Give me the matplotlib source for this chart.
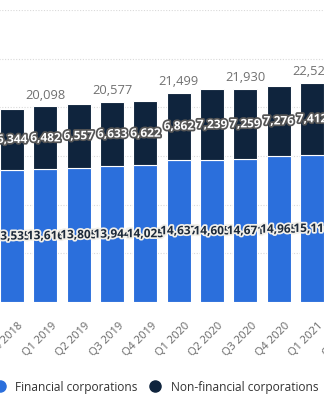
import matplotlib.pyplot as plt
import matplotlib.patheffects as pe
from matplotlib.lines import Line2D
from matplotlib.transforms import ScaledTranslation

plt.rcParams['font.family'] = ['Open Sans', 'DejaVu Sans']

# quarters (Q2 2021 is only partly visible at the right edge)
quarters = ['Q4 2018', 'Q1 2019', 'Q2 2019', 'Q3 2019', 'Q4 2019', 'Q1 2020',
            'Q2 2020', 'Q3 2020', 'Q4 2020', 'Q1 2021', 'Q2 2021']
financial = [13535, 13616, 13805, 13944, 14025, 14637, 14605, 14671, 14965, 15114]
non_financial = [6344, 6482, 6557, 6633, 6622, 6862, 7239, 7259, 7276, 7412]
y_ticks = [5000, 10000, 15000, 20000, 25000, 30000]

blue = '#2b6fdc'
navy = '#0f243d'

fig = plt.figure(figsize=(3.24, 4), dpi=100)
# axes is wider than the figure, the picture is a crop of a wider chart
ax = fig.add_axes([-4.67 / 324, 0.245, 366.67 / 324, 0.73])

x = list(range(len(financial)))
ax.bar(x, financial, width=0.72, color=blue, edgecolor='white', linewidth=0.8, zorder=2)
ax.bar(x, non_financial, width=0.72, bottom=financial, color=navy,
       edgecolor='white', linewidth=0.8, zorder=2)

for yv in y_ticks:
    ax.axhline(yv, color='#d9d9d9', linestyle=(0, (1, 1.5)), linewidth=0.8, zorder=1)

ax.set_xlim(-0.5, len(quarters) - 0.5)
ax.set_ylim(0, 30000)
for s in ax.spines.values():
    s.set_visible(False)
ax.set_yticks([])
ax.set_xticks(range(len(quarters)))
ax.set_xticklabels(quarters, rotation=45, ha='right', rotation_mode='anchor',
                   fontsize=8, color='#666666')
ax.tick_params(axis='x', length=0, pad=13)
for lab in ax.get_xticklabels():
    lab.set_transform(lab.get_transform() + ScaledTranslation(0.06, 0, fig.dpi_scale_trans))

# value labels
for i in x:
    ax.text(i, financial[i] / 2, f'{financial[i]:,}', ha='center', va='center',
            fontsize=8.5, fontweight='bold', color='#1d2a3a', zorder=3 + i,
            path_effects=[pe.withStroke(linewidth=2.5, foreground='#f2f0ea')])
    ax.text(i, financial[i] + non_financial[i] / 2, f'{non_financial[i]:,}',
            ha='center', va='center', fontsize=8.5, fontweight='bold', color='white',
            zorder=3 + i, path_effects=[pe.withStroke(linewidth=2.5, foreground='#555555')])
    if i % 2 == 1:
        ax.text(i, financial[i] + non_financial[i] + 500, f'{financial[i] + non_financial[i]:,}',
                ha='center', va='bottom', fontsize=9.3, color='#707070', zorder=3)

handles = [Line2D([], [], marker='o', linestyle='', markersize=8, color=blue),
           Line2D([], [], marker='o', linestyle='', markersize=8, color=navy)]
fig.legend(handles, ['Financial corporations', 'Non-financial corporations'],
           loc='center', bbox_to_anchor=(0.4724, 0.0325), ncol=2, frameon=False,
           fontsize=8.6, handletextpad=0.3, columnspacing=0.5, labelcolor='#333333')

fig.savefig('out.png', dpi=100)
